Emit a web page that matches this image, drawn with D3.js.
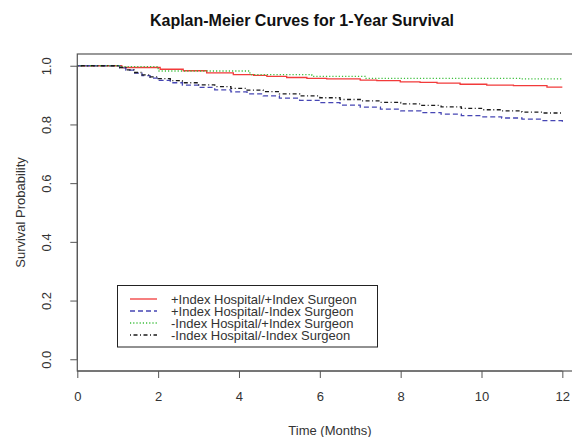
<!DOCTYPE html>
<html lang="en">
<head>
<meta charset="UTF-8">
<title>Kaplan-Meier Curves</title>
<script src="https://cdn.jsdelivr.net/npm/d3@7/dist/d3.min.js"></script>
<style>
  body { margin: 0; background: #fff; }
  svg { display: block; font-family: "Liberation Sans", Arial, sans-serif; }
  .tick-label { font-size: 13px; fill: #333; }
</style>
</head>
<body>
<svg id="chart" width="572" height="437"></svg>
<script>
// Kaplan-Meier step data (time in months, survival)
const timesRed = [0, 1.1, 2.05, 2.62, 3.2, 3.86, 4.36, 4.69, 5.18, 5.68, 6.17, 7.0, 7.41, 7.99, 8.48, 8.9, 9.47, 10.13, 10.79, 11.62, 12];
const survRed  = [1.0, 0.994, 0.988, 0.983, 0.976, 0.970, 0.967, 0.964, 0.960, 0.957, 0.955, 0.951, 0.949, 0.945, 0.943, 0.941, 0.937, 0.934, 0.932, 0.927, 0.927];

const timesBlue = [0, 1.05, 1.2, 1.4, 1.6, 1.8, 2.0, 2.3, 2.6, 3.0, 3.4, 3.8, 4.2, 4.6, 5.0, 5.5, 6.0, 6.5, 7.0, 7.5, 8.0, 8.5, 9.0, 9.5, 10.0, 10.5, 11.0, 11.5, 12];
const survBlue  = [1.0, 0.993, 0.985, 0.975, 0.966, 0.958, 0.950, 0.942, 0.934, 0.926, 0.918, 0.911, 0.904, 0.897, 0.890, 0.882, 0.874, 0.866, 0.859, 0.852, 0.846, 0.840, 0.835, 0.830, 0.826, 0.822, 0.818, 0.813, 0.807];

const timesGreen = [0, 1.1, 2.0, 4.27, 5.8, 7.12, 10.96, 12];
const survGreen  = [1.0, 0.997, 0.982, 0.970, 0.964, 0.957, 0.955, 0.955];

const timesBlack = [0, 1.05, 1.2, 1.4, 1.6, 1.8, 2.0, 2.3, 2.6, 3.0, 3.4, 3.8, 4.2, 4.6, 5.0, 5.5, 6.0, 6.5, 7.0, 7.5, 8.0, 8.5, 9.0, 9.5, 10.0, 10.5, 11.0, 11.5, 12];
const survBlack  = [1.0, 0.994, 0.986, 0.977, 0.969, 0.962, 0.956, 0.949, 0.942, 0.935, 0.929, 0.923, 0.917, 0.912, 0.904, 0.897, 0.891, 0.885, 0.880, 0.875, 0.870, 0.865, 0.860, 0.855, 0.850, 0.846, 0.842, 0.839, 0.836];

const groupLabels = ["+Index Hospital/+Index Surgeon", "+Index Hospital/-Index Surgeon",
                     "-Index Hospital/+Index Surgeon", "-Index Hospital/-Index Surgeon"];
const xTicks = [0, 2, 4, 6, 8, 10, 12];
const yTicks = [0, 0.2, 0.4, 0.6, 0.8, 1.0];

const styles = [
  { color: "#f23a3a", dash: null },
  { color: "#4646b4", dash: "5,3" },
  { color: "#3cbf3c", dash: "1.2,2" },
  { color: "#1a1a1a", dash: "1,2.5,4,2.5" }
];
const series = [
  [timesRed, survRed], [timesBlue, survBlue], [timesGreen, survGreen], [timesBlack, survBlack]
].map(([t, s], i) => ({ pts: t.map((v, j) => [v, s[j]]), style: styles[i], label: groupLabels[i] }));

const svg = d3.select("#chart");
const plotLeft = 77.3, plotTop = 54, plotBottom = 371;
// survival-plot style axis: starts at 0, right end padded 4%
const x = d3.scaleLinear().domain([0, 12 * 1.04]).range([plotLeft, plotLeft + 12 * 1.04 * 40.42]);
const y = d3.scaleLinear().domain([-0.04, 1.04]).range([plotBottom, plotTop]);

// title
svg.append("text").attr("x", 302).attr("y", 26).attr("text-anchor", "middle")
  .style("font-size", "16px").style("font-weight", "bold").attr("fill", "#111")
  .text("Kaplan-Meier Curves for 1-Year Survival");

// curves
const g = svg.append("g");
const line = d3.line().x(d => x(d[0])).y(d => y(d[1])).curve(d3.curveStepAfter);
series.forEach(s => {
  g.append("path").attr("d", line(s.pts)).attr("fill", "none")
    .attr("stroke", s.style.color).attr("stroke-width", 1.3)
    .attr("stroke-dasharray", s.style.dash);
});

// box
svg.append("rect").attr("x", plotLeft).attr("y", plotTop)
  .attr("width", x.range()[1] - plotLeft).attr("height", plotBottom - plotTop)
  .attr("fill", "none").attr("stroke", "#555").attr("stroke-width", 1.2);

// x axis
const xAxis = svg.append("g").attr("transform", `translate(0,${plotBottom})`)
  .call(d3.axisBottom(x).tickValues(xTicks).tickSize(7).tickPadding(14).tickFormat(d3.format("d")));
xAxis.select(".domain").attr("stroke", "#555").attr("d", `M${x(0)},0H${x(12)}`);
xAxis.selectAll(".tick line").attr("stroke", "#555");
xAxis.selectAll("text").attr("class", "tick-label").attr("fill", "#333");

// y axis with rotated labels
const yAxis = svg.append("g").attr("transform", `translate(${plotLeft},0)`)
  .call(d3.axisLeft(y).tickValues(yTicks).tickSize(7).tickFormat(d3.format(".1f")));
yAxis.select(".domain").attr("stroke", "#555").attr("d", `M0,${y(0)}V${y(1)}`);
yAxis.selectAll(".tick line").attr("stroke", "#555");
yAxis.selectAll(".tick text").attr("class", "tick-label").attr("fill", "#333")
  .attr("x", null).attr("dy", null)
  .attr("transform", "translate(-30,0) rotate(-90)")
  .attr("text-anchor", "middle").attr("dominant-baseline", "middle");

// axis titles
svg.append("text").attr("x", 330).attr("y", 435).attr("text-anchor", "middle")
  .attr("class", "tick-label").text("Time (Months)");
svg.append("text").attr("transform", `translate(25,${(plotTop + plotBottom) / 2}) rotate(-90)`)
  .attr("text-anchor", "middle").attr("class", "tick-label").text("Survival Probability");

// legend
const lg = svg.append("g");
lg.append("rect").attr("x", 117.5).attr("y", 285.5).attr("width", 260).attr("height", 61.5)
  .attr("fill", "#fff").attr("stroke", "#222").attr("stroke-width", 1);
series.forEach((s, i) => {
  const ly = 299 + i * 12;
  lg.append("line").attr("x1", 130).attr("x2", 157).attr("y1", ly).attr("y2", ly)
    .attr("stroke", s.style.color).attr("stroke-width", 1.3)
    .attr("stroke-dasharray", s.style.dash);
  lg.append("text").attr("x", 171).attr("y", ly).attr("dy", "0.36em")
    .attr("class", "tick-label").text(s.label);
});
</script>
</body>
</html>
